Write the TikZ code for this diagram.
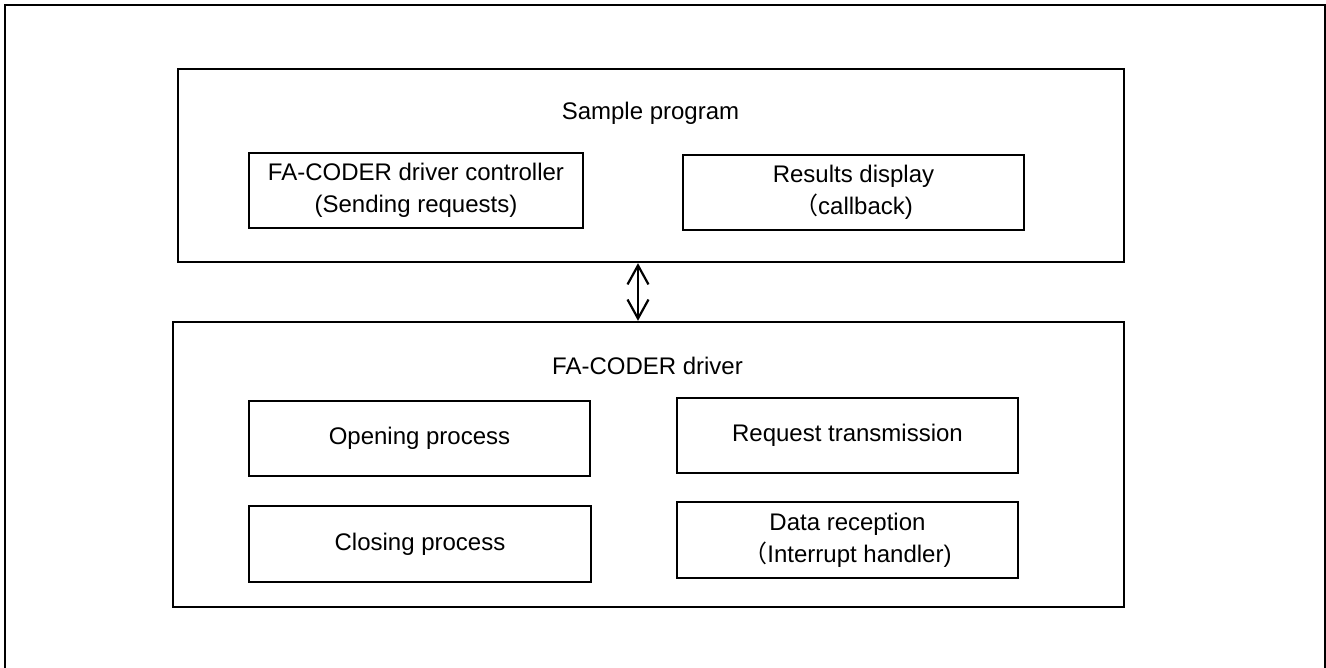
\documentclass[tikz,border=0pt]{standalone}
\usepackage{fontspec}
\setmainfont{Liberation Sans}
\newfontfamily\cjk{Noto Sans CJK JP}
\usetikzlibrary{arrows.meta}
\begin{document}
\begin{tikzpicture}[x=1pt,y=1pt,
  every node/.style={font=\fontsize{24}{32}\selectfont},
  box/.style={draw=black,line width=2.4pt,rectangle,inner sep=0pt,align=center},
  title/.style={inner sep=0pt,anchor=base},
  link/.style={line width=2.2pt,{Straight Barb[length=19pt,width=21pt]}-{Straight Barb[length=19pt,width=21pt]}}]
\useasboundingbox (0,0) rectangle (1326,668);
\coordinate (bl) at (5,0);
\coordinate (br) at (1325,0);
\draw[line width=2.6pt] (bl) |- (1325,663) -- (br);
% Sample program
\node[box,minimum width=946pt,minimum height=193pt] (sp) at (651,502.5) {};
\node[title] (spt) at (650.5,548) {Sample program};
\node[box,minimum width=334pt,minimum height=75pt] (ctrl) at (416,477.5) {FA-CODER driver controller\\(Sending requests)};
\node[box,minimum width=341pt,minimum height=75pt] (res) at (853.5,475.5) {Results display\\{\cjk （}callback)};
% Driver
\node[box,minimum width=951pt,minimum height=285pt] (drv) at (648.5,203.5) {};
\node[title] (drvt) at (647.5,293) {FA-CODER driver};
\node[box,minimum width=341pt,minimum height=75pt] (open) at (419.5,229.5) {Opening process};
\node[box,minimum width=341pt,minimum height=75pt] (req) at (847.5,232.5) {Request transmission};
\node[box,minimum width=342pt,minimum height=76pt] (close) at (420,124) {Closing process};
\node[box,minimum width=341pt,minimum height=76pt] (data) at (847.5,128) {Data reception\\{\cjk （}Interrupt handler)};
% connector
\draw[link] ([xshift=-13pt]sp.south) -- ([xshift=-13pt]sp.south |- drv.north);
\end{tikzpicture}
\end{document}
